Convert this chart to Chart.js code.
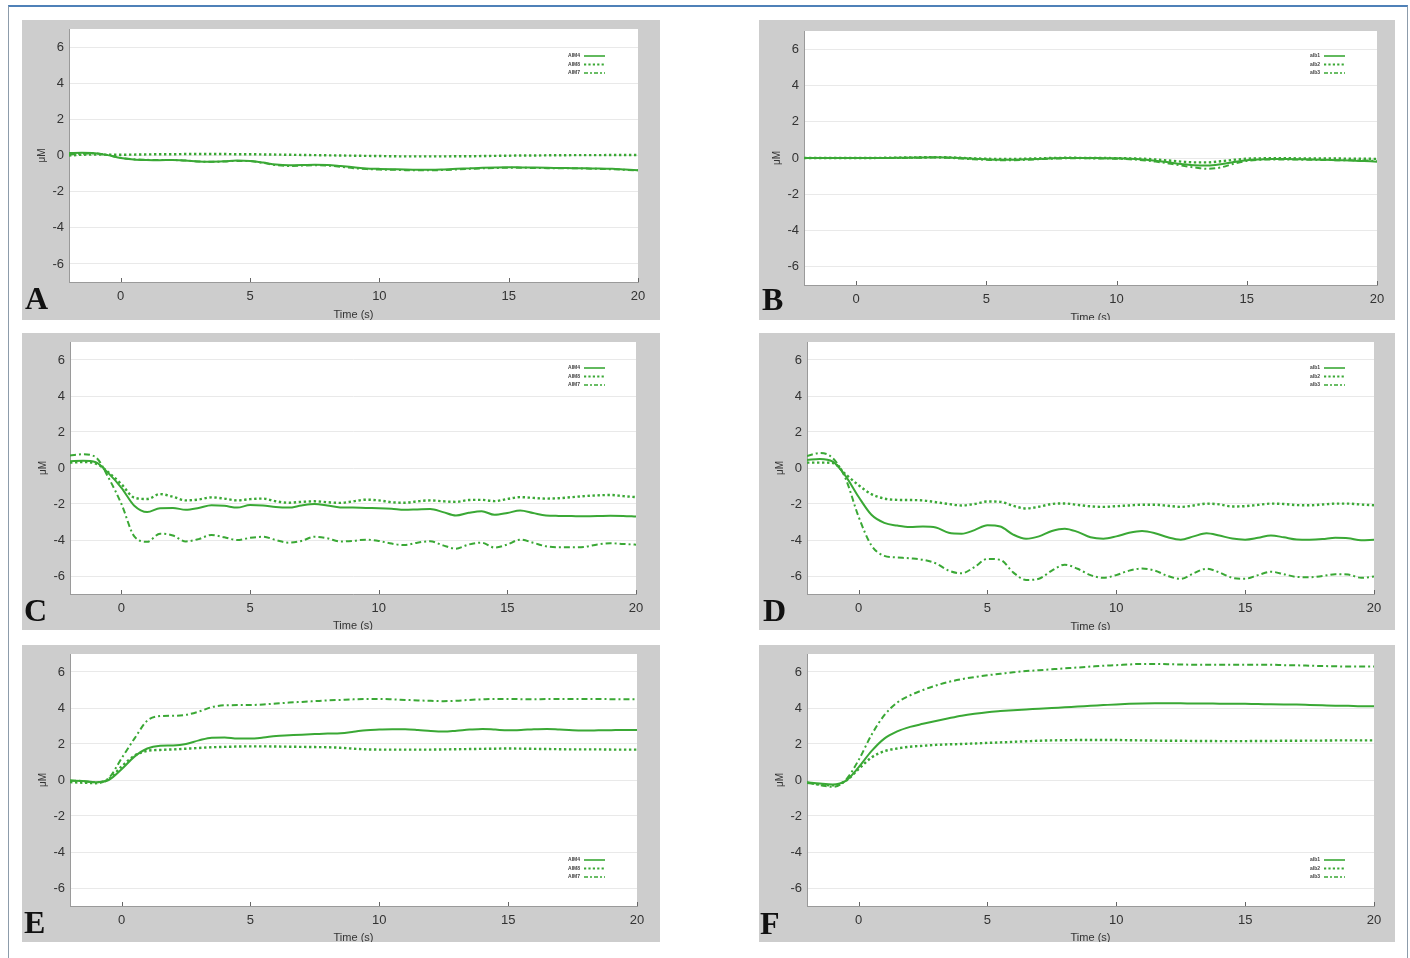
<!DOCTYPE html>
<html>
<head>
<meta charset="utf-8">
<script src="https://cdn.jsdelivr.net/npm/chart.js@4.4.0/dist/chart.umd.min.js"></script>
<style>
  body { margin: 0; background: #fff; width: 1410px; height: 958px; position: relative; overflow: hidden; font-family: "Liberation Sans", Arial, sans-serif; }
  .frame { position: absolute; left: 8px; top: 5px; width: 1398px; height: 970px; border-top: 2px solid #4f81b8; border-left: 1px solid #8d9cab; border-right: 1px solid #8d9cab; }
  .panel { position: absolute; background: #cdcdcd; }
  .panel canvas { position: absolute; left: 0; top: 0; }
  .tag { position: absolute; font-family: "Liberation Serif", serif; font-weight: bold; font-size: 32px; line-height: 1; color: #111; }
</style>
</head>
<body>
<div class="frame"></div>
<script>
// time axis (s), shared by every panel
const timeS = [-2, -1.5, -1, -0.5, 0, 0.5, 1, 1.5, 2, 2.5, 3, 3.5, 4, 4.5, 5, 5.5, 6, 6.5, 7, 7.5, 8, 8.5, 9, 9.5, 10,
  10.5, 11, 11.5, 12, 12.5, 13, 13.5, 14, 14.5, 15, 15.5, 16, 16.5, 17, 17.5, 18, 18.5, 19, 19.5, 20];
const xTickValues = [0, 5, 10, 15, 20];
const yTickValues = [-6, -4, -2, 0, 2, 4, 6];
const leftNames = ['AIM4', 'AIM8', 'AIM7'];
const rightNames = ['alb1', 'alb2', 'alb3'];

// panel A
const aSolid = [0.14, 0.15, 0.13, 0.02, -0.14, -0.22, -0.25, -0.26, -0.25, -0.28, -0.33, -0.34, -0.32, -0.28, -0.3,
  -0.39, -0.5, -0.54, -0.53, -0.51, -0.52, -0.58, -0.65, -0.72, -0.74, -0.76, -0.78, -0.79, -0.79, -0.77,
  -0.74, -0.71, -0.68, -0.66, -0.65, -0.66, -0.67, -0.68, -0.69, -0.7, -0.71, -0.72, -0.74, -0.78, -0.82];
const aDotted = [0.0, 0.04, 0.05, 0.05, 0.04, 0.05, 0.06, 0.07, 0.07, 0.08, 0.08, 0.08, 0.08, 0.07, 0.07,
  0.06, 0.05, 0.04, 0.03, 0.02, 0.01, 0.0, -0.01, -0.02, -0.03, -0.04, -0.05, -0.05, -0.05, -0.05,
  -0.04, -0.04, -0.03, -0.02, -0.01, 0.0, 0.0, 0.01, 0.01, 0.02, 0.02, 0.02, 0.03, 0.03, 0.03];
const aDashDot = [0.06, 0.1, 0.11, 0.02, -0.13, -0.21, -0.24, -0.25, -0.25, -0.28, -0.33, -0.35, -0.33, -0.3, -0.31,
  -0.41, -0.53, -0.58, -0.56, -0.54, -0.56, -0.62, -0.7, -0.75, -0.78, -0.79, -0.81, -0.82, -0.82, -0.8,
  -0.77, -0.74, -0.71, -0.69, -0.68, -0.68, -0.69, -0.7, -0.71, -0.71, -0.72, -0.74, -0.76, -0.79, -0.82];

// panel B
const bSolid = [0.0, 0.0, 0.0, 0.0, 0.0, 0.0, 0.0, 0.01, 0.02, 0.03, 0.04, 0.03, 0.0, -0.04, -0.07,
  -0.09, -0.09, -0.07, -0.05, -0.02, 0.0, 0.0, 0.0, -0.01, -0.02, -0.04, -0.08, -0.15, -0.24, -0.33,
  -0.4, -0.41, -0.34, -0.22, -0.12, -0.08, -0.06, -0.06, -0.07, -0.08, -0.1, -0.12, -0.14, -0.17, -0.2];
const bDotted = [0.0, 0.0, 0.0, 0.0, 0.0, 0.0, 0.01, 0.02, 0.03, 0.04, 0.05, 0.04, 0.01, -0.02, -0.04,
  -0.05, -0.05, -0.04, -0.02, 0.0, 0.01, 0.01, 0.0, 0.0, -0.01, -0.02, -0.04, -0.08, -0.14, -0.2,
  -0.24, -0.24, -0.18, -0.1, -0.04, -0.02, -0.01, -0.01, -0.02, -0.02, -0.03, -0.03, -0.04, -0.04, -0.05];
const bDashDot = [0.0, 0.0, 0.0, 0.0, 0.0, 0.0, 0.0, 0.0, 0.01, 0.02, 0.03, 0.01, -0.03, -0.07, -0.1,
  -0.12, -0.12, -0.1, -0.07, -0.04, -0.02, -0.01, -0.02, -0.03, -0.04, -0.07, -0.12, -0.2, -0.3, -0.42,
  -0.52, -0.6, -0.52, -0.32, -0.16, -0.1, -0.08, -0.08, -0.09, -0.1, -0.11, -0.12, -0.13, -0.14, -0.15];

// panel C
const cSolid = [0.38, 0.4, 0.32, -0.3, -1.1, -2.1, -2.45, -2.23, -2.22, -2.32, -2.22, -2.07, -2.1, -2.2, -2.06,
  -2.08, -2.17, -2.2, -2.08, -2.0, -2.08, -2.19, -2.2, -2.22, -2.23, -2.26, -2.32, -2.3, -2.28, -2.45,
  -2.64, -2.49, -2.4, -2.6, -2.5, -2.36, -2.5, -2.64, -2.66, -2.67, -2.68, -2.67, -2.65, -2.66, -2.7];
const cDotted = [0.3, 0.33, 0.25, -0.25, -0.9, -1.65, -1.72, -1.45, -1.6, -1.8, -1.75, -1.63, -1.7, -1.8, -1.73,
  -1.7, -1.85, -1.93, -1.88, -1.85, -1.9, -1.94, -1.85, -1.76, -1.8, -1.9, -1.93, -1.85, -1.8, -1.85,
  -1.88, -1.78, -1.77, -1.84, -1.72, -1.62, -1.66, -1.7, -1.68, -1.62, -1.56, -1.52, -1.5, -1.56, -1.62];
const cDashDot = [0.7, 0.76, 0.6, -0.55, -2.0, -3.8, -4.1, -3.65, -3.75, -4.08, -3.95, -3.72, -3.85, -4.0, -3.88,
  -3.82, -4.0, -4.15, -4.05, -3.82, -3.9, -4.08, -4.05, -3.98, -4.05, -4.2, -4.28, -4.15, -4.07, -4.3,
  -4.48, -4.25, -4.15, -4.42, -4.25, -3.98, -4.15, -4.35, -4.4, -4.4, -4.38, -4.25, -4.18, -4.22, -4.26];

// panel D
const dSolid = [0.45, 0.5, 0.35, -0.45, -1.6, -2.6, -3.05, -3.2, -3.28, -3.25, -3.3, -3.6, -3.65, -3.45, -3.18,
  -3.25, -3.7, -3.93, -3.8, -3.5, -3.37, -3.55, -3.85, -3.93, -3.8, -3.6, -3.5, -3.62, -3.85, -3.98,
  -3.8, -3.62, -3.75, -3.92, -3.98, -3.88, -3.75, -3.85, -3.97, -3.98, -3.95, -3.88, -3.9, -4.02, -3.98];
const dDotted = [0.3, 0.3, 0.28, -0.35, -0.95, -1.45, -1.7, -1.77, -1.78, -1.8, -1.9, -2.0, -2.08, -2.0, -1.86,
  -1.88, -2.1, -2.25, -2.15, -2.0, -1.97, -2.05, -2.13, -2.16, -2.12, -2.08, -2.04, -2.04, -2.1, -2.16,
  -2.08, -1.98, -2.02, -2.14, -2.12, -2.05, -1.98, -2.0, -2.06, -2.07, -2.03, -1.98, -1.98, -2.03, -2.07];
const dDashDot = [0.67, 0.83, 0.55, -0.6, -2.7, -4.3, -4.88, -4.97, -5.02, -5.1, -5.3, -5.7, -5.85, -5.5, -5.05,
  -5.1, -5.8, -6.22, -6.15, -5.7, -5.37, -5.6, -5.95, -6.1, -5.95, -5.7, -5.58, -5.7, -6.0, -6.16,
  -5.85, -5.6, -5.8, -6.1, -6.15, -5.95, -5.76, -5.9, -6.05, -6.07, -6.0, -5.9, -5.92, -6.1, -6.03];

// panel E
const eSolid = [-0.03, -0.05, -0.12, 0.0, 0.6, 1.3, 1.75, 1.9, 1.92, 2.0, 2.2, 2.35, 2.36, 2.3, 2.3,
  2.36, 2.44, 2.48, 2.52, 2.55, 2.58, 2.6, 2.68, 2.77, 2.8, 2.82, 2.82, 2.78, 2.72, 2.69,
  2.74, 2.8, 2.84, 2.8, 2.76, 2.78, 2.82, 2.84, 2.8, 2.76, 2.75, 2.76, 2.77, 2.78, 2.78];
const eDotted = [-0.12, -0.15, -0.18, 0.05, 0.75, 1.35, 1.62, 1.67, 1.7, 1.74, 1.78, 1.82, 1.84, 1.86, 1.87,
  1.87, 1.86, 1.85, 1.84, 1.83, 1.82, 1.79, 1.74, 1.7, 1.69, 1.69, 1.69, 1.69, 1.69, 1.7,
  1.71, 1.72, 1.73, 1.74, 1.75, 1.74, 1.73, 1.72, 1.71, 1.7, 1.7, 1.7, 1.69, 1.69, 1.69];
const eDashDot = [-0.03, -0.06, -0.13, 0.1, 1.2, 2.3, 3.3, 3.55, 3.57, 3.62, 3.8, 4.05, 4.15, 4.16, 4.16,
  4.2, 4.25, 4.3, 4.34, 4.38, 4.42, 4.45, 4.48, 4.5, 4.5, 4.48, 4.45, 4.42, 4.4, 4.38,
  4.4, 4.45, 4.48, 4.5, 4.5, 4.49, 4.48, 4.5, 4.5, 4.5, 4.5, 4.5, 4.49, 4.48, 4.48];

// panel F
const fSolid = [-0.12, -0.2, -0.25, -0.05, 0.7, 1.6, 2.3, 2.7, 2.95, 3.12, 3.28, 3.43, 3.57, 3.68, 3.77,
  3.83, 3.88, 3.92, 3.96, 4.0, 4.04, 4.08, 4.12, 4.16, 4.2, 4.23, 4.25, 4.26, 4.26, 4.26,
  4.25, 4.25, 4.24, 4.24, 4.23, 4.22, 4.21, 4.2, 4.19, 4.17, 4.15, 4.13, 4.12, 4.1, 4.1];
const fDotted = [-0.15, -0.25, -0.3, -0.05, 0.6, 1.25, 1.6, 1.75, 1.85, 1.9, 1.95, 1.98, 2.0, 2.03, 2.06,
  2.09, 2.12, 2.15, 2.18, 2.2, 2.21, 2.22, 2.22, 2.22, 2.22, 2.21, 2.2, 2.19, 2.18, 2.18,
  2.17, 2.17, 2.16, 2.16, 2.16, 2.17, 2.17, 2.18, 2.18, 2.19, 2.19, 2.2, 2.2, 2.2, 2.2];
const fDashDot = [-0.15, -0.28, -0.38, 0.0, 1.1, 2.5, 3.6, 4.3, 4.7, 5.0, 5.25, 5.45, 5.6, 5.72, 5.82,
  5.9, 5.98, 6.05, 6.1, 6.15, 6.2, 6.25, 6.3, 6.35, 6.38, 6.42, 6.45, 6.45, 6.43, 6.42,
  6.4, 6.4, 6.4, 6.4, 6.4, 6.4, 6.4, 6.38, 6.37, 6.35, 6.33, 6.32, 6.3, 6.3, 6.3];

const GREEN = '#3aa835';

// where each panel sits, and the margins of its plot inside the grey frame
const panels = [
  { tag: 'A', left: 22, top: 20, w: 638, h: 300, pad: { l: 47, r: 22, t: 9, b: 38 }, titleAt: 32.5, yTitle: 20,
    key: { where: 'top', dx: 33, dy: 27 }, tagAt: [25, 288], names: leftNames, series: [aSolid, aDotted, aDashDot] },
  { tag: 'B', left: 759, top: 20, w: 636, h: 300, pad: { l: 45, r: 18, t: 11, b: 35 }, titleAt: 33, yTitle: 18,
    key: { where: 'top', dx: 32, dy: 25 }, tagAt: [762, 289], names: rightNames, series: [bSolid, bDotted, bDashDot] },
  { tag: 'C', left: 22, top: 333, w: 638, h: 297, pad: { l: 48, r: 24, t: 9, b: 36 }, titleAt: 32, yTitle: 21,
    key: { where: 'top', dx: 31, dy: 26 }, tagAt: [24, 600], names: leftNames, series: [cSolid, cDotted, cDashDot] },
  { tag: 'D', left: 759, top: 333, w: 636, h: 297, pad: { l: 48, r: 21, t: 9, b: 36 }, titleAt: 33, yTitle: 21,
    key: { where: 'top', dx: 29, dy: 26 }, tagAt: [763, 600], names: rightNames, series: [dSolid, dDotted, dDashDot] },
  { tag: 'E', left: 22, top: 645, w: 638, h: 297, pad: { l: 48, r: 23, t: 9, b: 36 }, titleAt: 32, yTitle: 21,
    key: { where: 'bottom', dx: 32, dy: 29 }, tagAt: [24, 912], names: leftNames, series: [eSolid, eDotted, eDashDot] },
  { tag: 'F', left: 759, top: 645, w: 636, h: 297, pad: { l: 48, r: 21, t: 9, b: 36 }, titleAt: 32, yTitle: 21,
    key: { where: 'bottom', dx: 29, dy: 29 }, tagAt: [760, 913], names: rightNames, series: [fSolid, fDotted, fDashDot] }
];

const styles = [
  { borderWidth: 2, borderDash: [] },
  { borderWidth: 2.4, borderDash: [2.4, 2.6] },
  { borderWidth: 2, borderDash: [6, 3, 2, 3] }
];

// white plot area
const plotBg = {
  id: 'plotBg',
  beforeDraw(chart) {
    const { ctx, chartArea: a } = chart;
    ctx.save();
    ctx.fillStyle = '#fff';
    ctx.fillRect(a.left, a.top, a.right - a.left, a.bottom - a.top);
    ctx.restore();
  }
};

// short tick marks pointing into the plot from the time axis
const innerTicks = {
  id: 'innerTicks',
  afterDraw(chart) {
    const { ctx, chartArea: a, scales } = chart;
    ctx.save();
    ctx.strokeStyle = '#666';
    ctx.lineWidth = 1;
    scales.x.ticks.forEach(t => {
      const px = Math.round(scales.x.getPixelForValue(t.value)) + 0.5;
      ctx.beginPath();
      ctx.moveTo(px, a.bottom);
      ctx.lineTo(px, a.bottom - 4);
      ctx.stroke();
    });
    ctx.restore();
  }
};

// the tiny key inside the plot
const seriesKey = {
  id: 'seriesKey',
  afterDatasetsDraw(chart, args, opts) {
    const { ctx, chartArea: a } = chart;
    chart.data.datasets.forEach((ds, i) => {
      const y = opts.where === 'top' ? a.top + opts.dy + i * 8.5 : a.bottom - opts.dy - (2 - i) * 8.5;
      const x1 = a.right - opts.dx, x0 = x1 - 21;
      ctx.save();
      ctx.strokeStyle = ds.borderColor;
      ctx.lineWidth = i === 1 ? 2.2 : 1.6;
      ctx.setLineDash(i === 1 ? [2.2, 2.2] : i === 2 ? [4, 2, 2, 2] : []);
      ctx.beginPath();
      ctx.moveTo(x0, y);
      ctx.lineTo(x1, y);
      ctx.stroke();
      ctx.setLineDash([]);
      ctx.fillStyle = '#444';
      ctx.font = 'bold 5px "Liberation Sans"';
      ctx.textAlign = 'right';
      ctx.textBaseline = 'middle';
      ctx.fillText(ds.label, x0 - 4, y);
      ctx.restore();
    });
  }
};

function makePanel(p) {
  const box = document.createElement('div');
  box.className = 'panel';
  Object.assign(box.style, { left: p.left + 'px', top: p.top + 'px', width: p.w + 'px', height: p.h + 'px' });
  const cv = document.createElement('canvas');
  cv.width = p.w;
  cv.height = p.h;
  box.appendChild(cv);
  const tag = document.createElement('div');
  tag.className = 'tag';
  tag.textContent = p.tag;
  Object.assign(tag.style, { left: (p.tagAt[0] - p.left) + 'px', top: (p.tagAt[1] - p.top - 6) + 'px' });
  box.appendChild(tag);
  document.body.appendChild(box);

  new Chart(cv, {
    type: 'line',
    data: {
      datasets: p.series.map((s, i) => ({
        label: p.names[i],
        data: timeS.map((t, k) => ({ x: t, y: s[k] })),
        borderColor: GREEN,
        borderWidth: styles[i].borderWidth,
        borderDash: styles[i].borderDash,
        pointRadius: 0,
        fill: false,
        cubicInterpolationMode: 'monotone'
      }))
    },
    options: {
      responsive: false,
      animation: false,
      events: [],
      layout: { padding: { left: 0, right: p.pad.r, top: p.pad.t, bottom: 0 } },
      plugins: {
        legend: { display: false },
        tooltip: { enabled: false },
        seriesKey: p.key
      },
      scales: {
        x: {
          type: 'linear', min: -2, max: 20,
          afterBuildTicks: s => { s.ticks = xTickValues.map(v => ({ value: v })); },
          afterFit: s => { s.height = p.pad.b; s.paddingLeft = 0; s.paddingRight = 0; },
          grid: { display: false, drawTicks: false },
          border: { color: '#9a9a9a' },
          ticks: { padding: 7, color: '#333', font: { family: 'Liberation Sans', size: 13 } },
          title: {
            display: true, text: 'Time (s)', color: '#333',
            font: { family: 'Liberation Sans', size: 11, lineHeight: 1 },
            padding: { top: 0, bottom: p.pad.b - 5.5 - p.titleAt }
          }
        },
        y: {
          type: 'linear', min: -7, max: 7,
          afterBuildTicks: s => { s.ticks = yTickValues.map(v => ({ value: v })); },
          afterFit: s => { s.width = p.pad.l; s.paddingTop = 0; s.paddingBottom = 0; },
          grid: { color: '#e9e9e9', drawTicks: false },
          border: { color: '#9a9a9a' },
          ticks: { padding: 5, color: '#333', font: { family: 'Liberation Sans', size: 13 } },
          title: {
            display: true, text: 'μM', color: '#333',
            font: { family: 'Liberation Sans', size: 10, lineHeight: 1 },
            padding: { top: p.yTitle - 5, bottom: 0 }
          }
        }
      }
    },
    plugins: [plotBg, innerTicks, seriesKey]
  });
}

panels.forEach(makePanel);
</script>
</body>
</html>
